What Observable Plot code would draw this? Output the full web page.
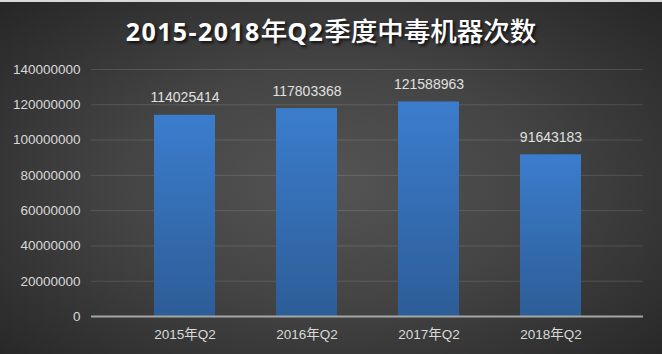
<!DOCTYPE html>
<html>
<head>
<meta charset="utf-8">
<script src="https://cdn.jsdelivr.net/npm/d3@7"></script>
<script src="https://cdn.jsdelivr.net/npm/@observablehq/plot@0.6"></script>
<style>
  html, body { margin: 0; padding: 0; }
  body {
    width: 662px; height: 354px; overflow: hidden; box-sizing: border-box;
    border-top: 2px solid #d9d9d9;
    background: radial-gradient(ellipse farthest-corner at 50% 52%, #545454 0%, #444444 45%, #262626 100%);
  }
  #title {
    height: 52px; box-sizing: border-box; padding-top: 13px;
    text-align: center; color: #ffffff; white-space: nowrap;
    font-family: "Open Sans", "Noto Sans CJK SC", sans-serif;
    text-shadow: 2px 2px 3px rgba(0,0,0,0.75);
    line-height: 30px;
  }
  #title .lat { font-size: 25px; font-weight: 700; letter-spacing: 1.4px; }
  #title .cjk { font-family: "Noto Sans CJK SC", sans-serif; font-size: 26.5px; font-weight: 500; }
  #chart svg { display: block; background: transparent; overflow: visible; }
</style>
</head>
<body>
<div id="title"><span class="lat">2015-2018</span><span class="cjk">年</span><span class="lat">Q2</span><span class="cjk">季度中毒机器次数</span></div>
<div id="chart"></div>
<script>
const categories = ["2015年Q2", "2016年Q2", "2017年Q2", "2018年Q2"];
const values = [114025414, 117803368, 121588963, 91643183];
const yTicks = [0, 20000000, 40000000, 60000000, 80000000, 100000000, 120000000, 140000000];

const data = categories.map((c, i) => ({category: c, value: values[i]}));
const font = "'Liberation Sans', 'Noto Sans CJK SC', sans-serif";

const chart = Plot.plot({
  width: 662,
  height: 302,
  marginTop: 15,
  marginBottom: 40,
  marginLeft: 91,
  marginRight: 19,
  style: {background: "transparent", color: "#d9d9d9", fontFamily: font, fontSize: "13.5px"},
  x: {domain: categories, padding: 0.5, label: null},
  y: {domain: [0, 140000000], label: null},
  marks: [
    Plot.gridY(yTicks, {stroke: "#ffffff", strokeOpacity: 0.13, strokeWidth: 1}),
    Plot.axisY(yTicks, {tickSize: 0, tickPadding: 11, tickFormat: d => String(d), label: null, fill: "#d9d9d9", fontSize: 13.5}),
    Plot.axisX({tickSize: 0, tickPadding: 13, label: null, fill: "#d9d9d9", fontSize: 13.5}),
    Plot.barY(data, {x: "category", y: "value", fill: "url(#barGrad)", style: {filter: "drop-shadow(0px 0px 2px rgba(0,0,0,0.45))"}}),
    Plot.ruleY([0], {stroke: "#a6a6a6", strokeWidth: 2}),
    Plot.text(data, {x: "category", y: "value", text: d => String(d.value), dy: -13, lineAnchor: "bottom", fill: "#e0e0e0", fontSize: 14})
  ]
});

const svg = d3.select(chart);
const defs = svg.insert("defs", ":first-child");
const grad = defs.append("linearGradient").attr("id", "barGrad").attr("x1", 0).attr("y1", 0).attr("x2", 0).attr("y2", 1);
grad.append("stop").attr("offset", "0%").attr("stop-color", "#3b7dcd");
grad.append("stop").attr("offset", "100%").attr("stop-color", "#2d5d97");

document.getElementById("chart").appendChild(chart);
</script>
</body>
</html>
